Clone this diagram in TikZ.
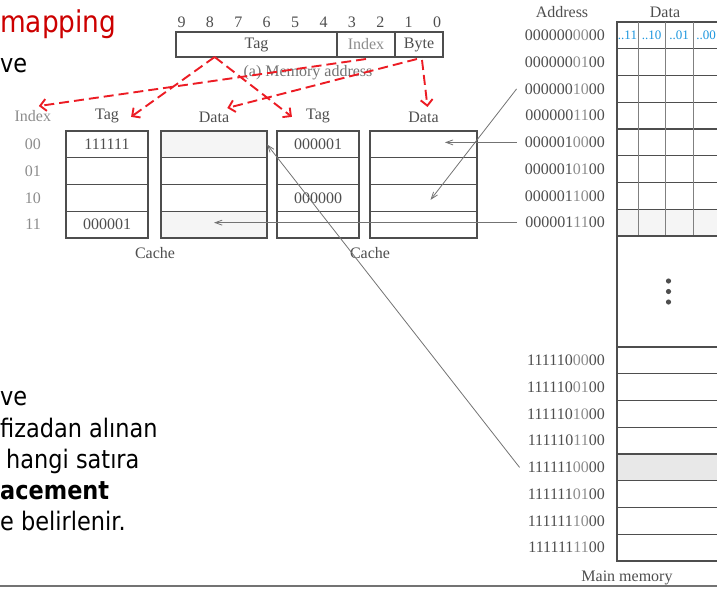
\documentclass[tikz,border=0pt]{standalone}
\usepackage{fontspec}
\setmainfont{Liberation Serif}
\newfontfamily\slidefont{DejaVu Sans}[FakeStretch=0.88]
\usetikzlibrary{arrows.meta,positioning,calc}

\definecolor{ink}{RGB}{78,78,78}
\definecolor{pale}{RGB}{140,140,140}
\definecolor{slidered}{RGB}{204,0,0}
\definecolor{dashred}{RGB}{236,28,36}
\definecolor{bytecol}{RGB}{28,150,222}

\newcommand{\maddr}[3]{#1{\color{pale}#2}#3}

\begin{document}
\begin{tikzpicture}[
  x=1pt, y=-1pt,
  font=\fontsize{16}{19}\selectfont, text=ink,
  lbl/.style={inner sep=1pt},
  field/.style={draw=ink, line width=1.3pt, minimum height=25pt, inner sep=0pt, outer sep=0pt},
  cell/.style={draw=ink, line width=1.4pt, minimum width=#1, minimum height=26.75pt, inner sep=0pt, outer sep=0pt},
  memrow/.style={draw=ink, line width=1.3pt, minimum width=103pt, minimum height=26.75pt, inner sep=0pt, outer sep=0pt},
  adr/.style={inner xsep=8pt, inner ysep=1pt, left=4pt of #1},
  hit/.style={black!55, line width=0.8pt, -{Straight Barb[length=7pt,width=5pt]}},
  map/.style={dashred, line width=1.9pt, dash pattern=on 10pt off 5pt, -{Straight Barb[length=6pt,width=12pt]}},
  slide/.style={anchor=base west, inner sep=0pt, text=black, font=\slidefont\fontsize{25.5}{30}\selectfont}
]
\useasboundingbox (0,0) rectangle (717,589);
\clip (0,0) rectangle (717,589);

% slide text
\node[slide, text=slidered, font=\slidefont\fontsize{30}{36}\selectfont] (title) at (0,32) {mapping};
\node[slide] (topve) at (0,72) {ve};
\node[slide] (line1) at (0,405) {ve};
\node[slide] (line2) at (0,437) {fizadan alınan};
\node[slide] (line3) at (6,468) {hangi satıra};
\node[slide, font=\slidefont\bfseries\fontsize{25.5}{30}\selectfont] (line4) at (0,499) {acement};
\node[slide] (line5) at (0,530) {e belirlenir.};

% address fields
\node[field, minimum width=161pt] (fTag) at (256.5,44.5) {Tag};
\node[field, minimum width=58pt, right=0pt of fTag, text=pale] (fIdx) {Index};
\node[field, minimum width=48pt, right=0pt of fIdx] (fByte) {Byte};
\foreach \b [count=\i from 0] in {9,...,0}
  \node[lbl] (bit\b) at (181.5+28.4*\i,22) {\b};
\node[lbl, text=black!55] (addrCap) at (308,73) {(a) Memory address};

% two direct-mapped caches
\foreach \r/\ta/\tb in {0/111111/000001,1//,2//000000,3/000001/} {
  \pgfmathtruncatemacro{\tone}{(\r==0 || \r==3)*4}
  \node[cell=82pt] (tA\r) at (107,144.4+26.75*\r) {\ta};
  \node[cell=106pt, fill=black!\tone] (dA\r) at (214,144.4+26.75*\r) {};
  \node[cell=82pt] (tB\r) at (318,144.4+26.75*\r) {\tb};
  \node[cell=107pt] (dB\r) at (423.5,144.4+26.75*\r) {};
}
\foreach \r/\ix in {0/00,1/01,2/10,3/11}
  \node[lbl, text=pale, left=24pt of tA\r] (ix\r) {\ix};
\node[lbl, above=7pt of tA0] (hdTagA) {Tag};
\node[lbl, above=7pt of dA0] (hdDataA) {Data};
\node[lbl, above=7pt of tB0] (hdTagB) {Tag};
\node[lbl, above=7pt of dB0] (hdDataB) {Data};
\node[lbl, text=pale] (hdIdx) at (ix0 |- hdTagA) {Index};
\node[lbl] (capA) at (155,253) {Cache};
\node[lbl] (capB) at (370,253) {Cache};

% main memory
\node[lbl] (hdAdr) at (562,12) {Address};
\node[lbl] (hdMem) at (665,12) {Data};
\foreach \h [count=\i from 0] in {000000,000001}
  \foreach \m [count=\j from 0] in {00,01,10,11} {
    \pgfmathtruncatemacro{\r}{4*\i+\j}
    \pgfmathtruncatemacro{\tone}{(\r==7)*4}
    \node[memrow, fill=black!\tone] (memA\r) at (668.5,35.4+26.75*\r) {};
    \node[adr=memA\r] (adrA\r) {\maddr{\h}{\m}{00}};
  }
\foreach \vx in {638,665,693}
  \draw[black!50, line width=0.7pt] (\vx,0 |- memA0.north) -- (\vx,0 |- memA7.south);
\foreach \bx/\bl [count=\k] in {627.5/..11,651.5/..10,679/..01,706/..00}
  \node[lbl, text=bytecol, font=\fontsize{13}{15}\selectfont] (byte\k) at (\bx,35.4) {\bl};
\node[memrow, minimum height=111pt] (memGap) at (668.5,291.5) {};
\foreach \d in {-10.5,0,10.5}
  \fill[ink] ($(memGap.center)+(0,\d)$) circle (2.6pt);
\foreach \h [count=\i from 0] in {111110,111111}
  \foreach \m [count=\j from 0] in {00,01,10,11} {
    \pgfmathtruncatemacro{\r}{4*\i+\j}
    \pgfmathtruncatemacro{\tone}{(\r==4)*9}
    \node[memrow, fill=black!\tone] (memB\r) at (668.5,360.4+26.75*\r) {};
    \node[adr=memB\r] (adrB\r) {\maddr{\h}{\m}{00}};
  }
\node[lbl] (memCap) at (627,578) {Main memory};

% blocks loaded into the caches
\coordinate (hitB0) at ($(dB0.center)!.4!(dB0.east)$);
\draw[hit] (adrA7.west) -- (adrA7.west -| dA3.center);
\draw[hit] (adrA4.west) -- (adrA4.west -| hitB0);
\draw[hit] (adrA2.west) -- ($(dB2.center)+(7,2)$);
\draw[hit] (adrB4.west) -- (dA0.east);

% address bits to cache fields
\coordinate (tagOut) at ($(fTag.south west)!.24!(fTag.south east)$);
\draw[map] (tagOut) -- ($(hdTagA.east)+(11,1)$);
\draw[map] (tagOut) -- ($(hdTagB.west)+(-13,1)$);
\draw[map] ($(fIdx.south)+(0,2)$) -- ($(hdIdx.north)+(6,-3)$);
\draw[map] ($(fByte.south)+(-2,2)$) -- ($(hdDataA.north east)+(-3,-3)$);
\draw[map] ($(fByte.south)+(3,3)$) -- ($(hdDataB.north)+(4,-4)$);

\draw[line width=2.5pt, black!55] (0,586) -- (717,586);
\end{tikzpicture}
\end{document}
